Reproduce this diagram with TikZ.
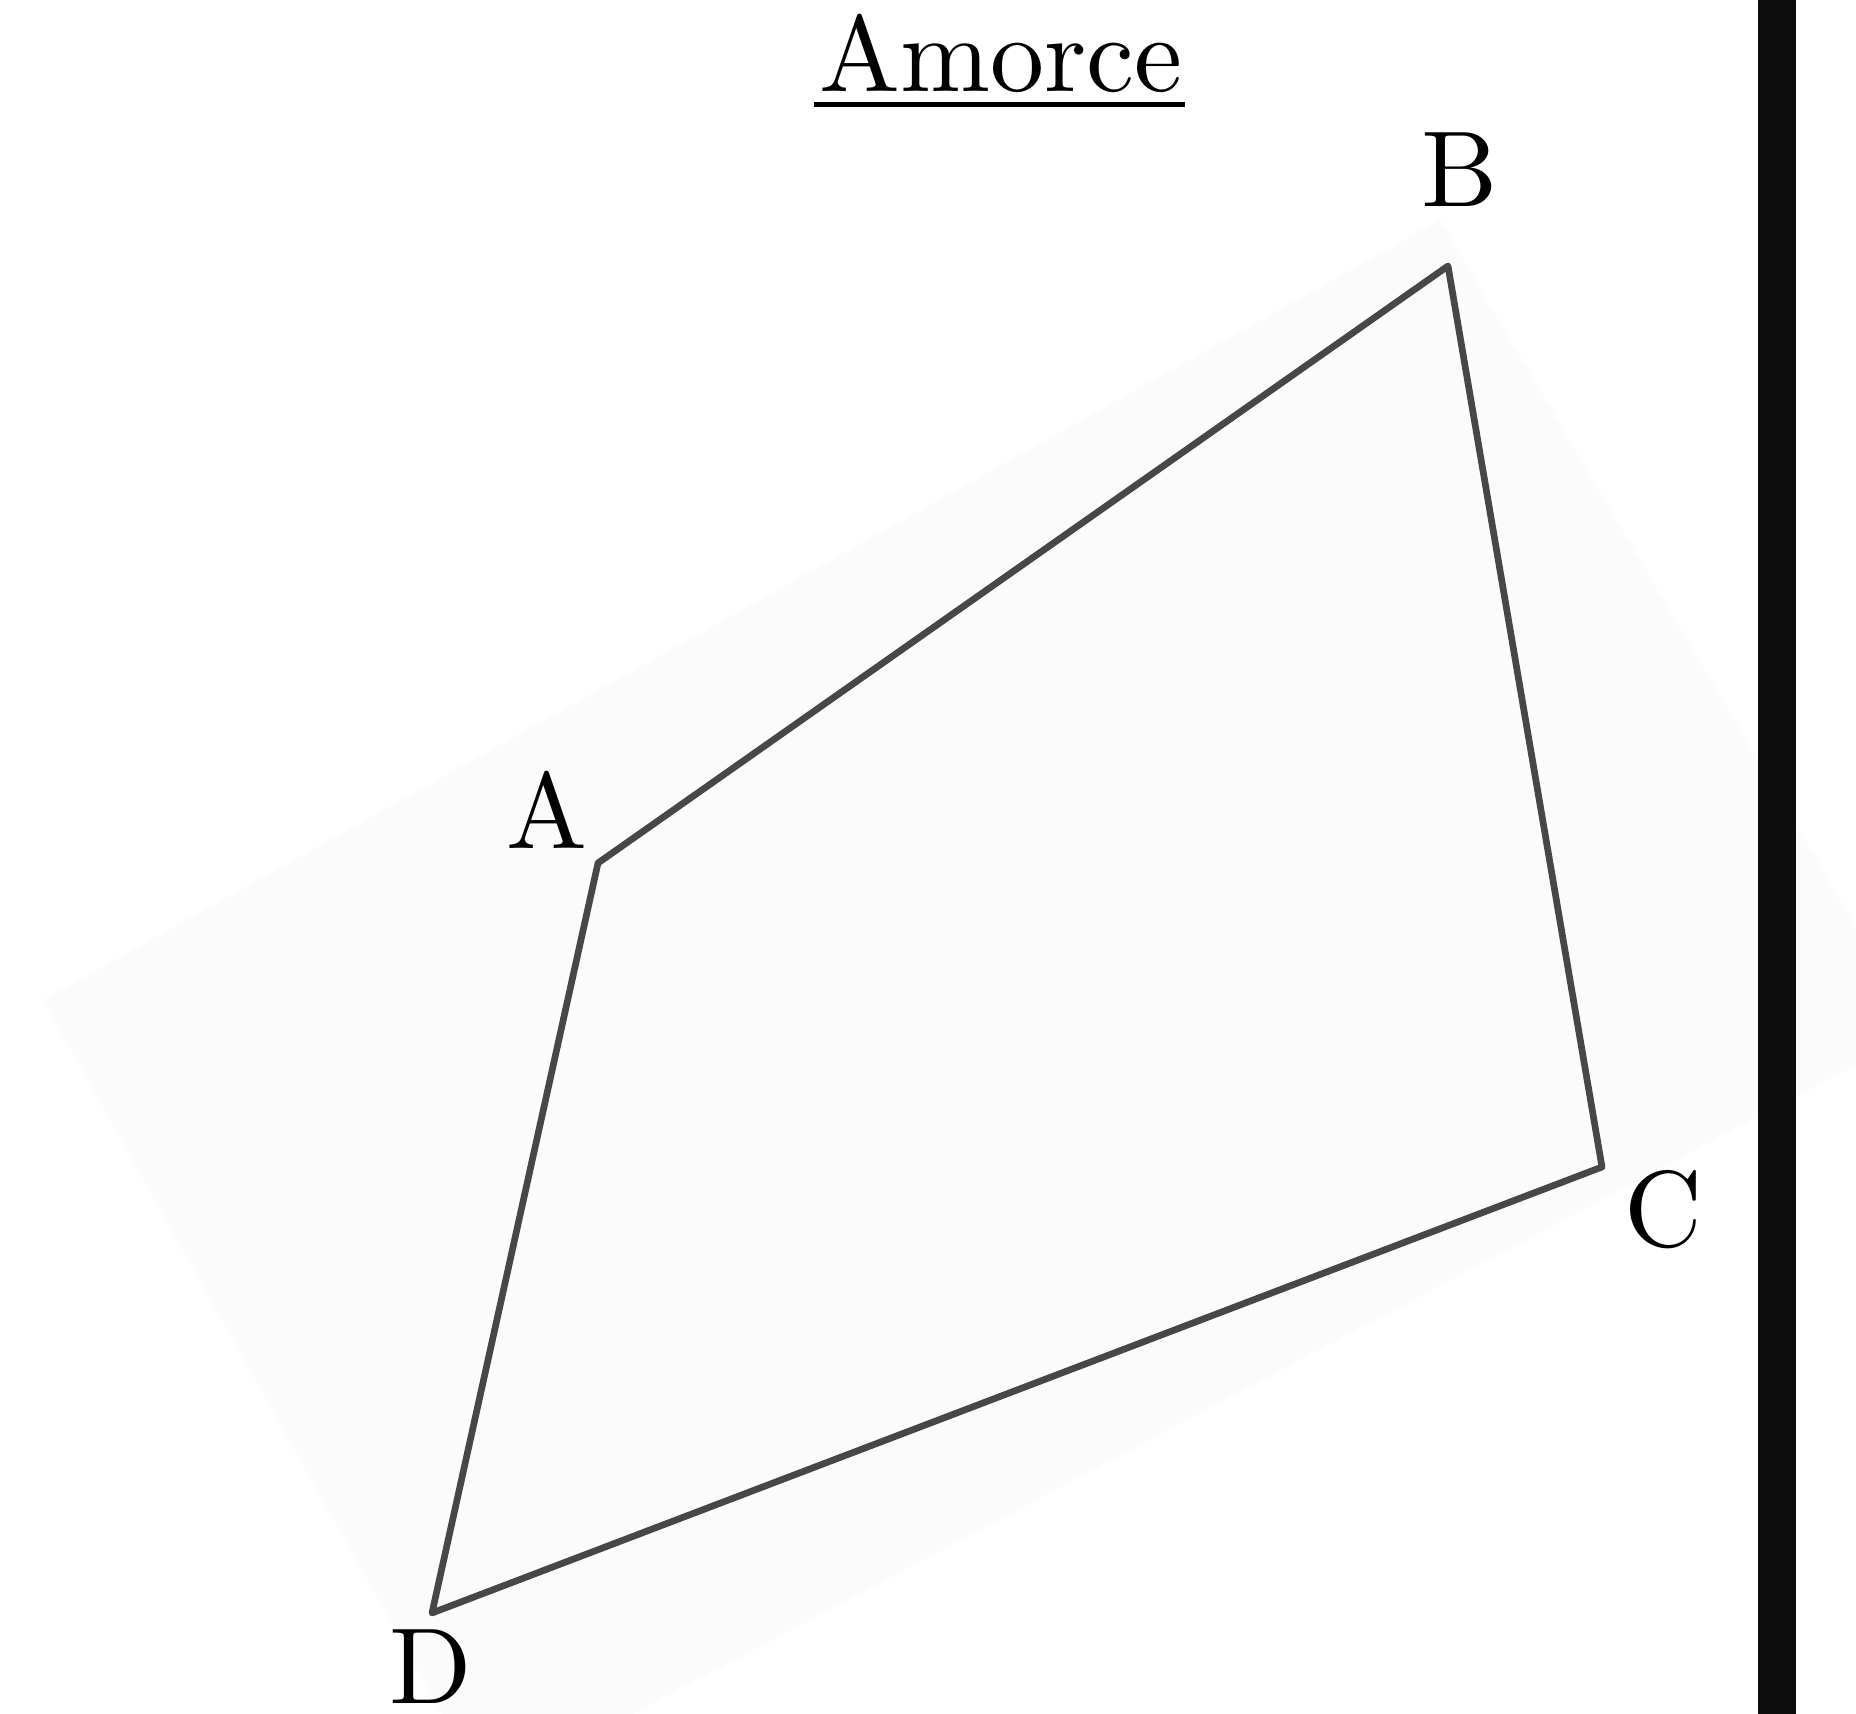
\documentclass[tikz,border=0pt]{standalone}
\usepackage{amsmath}
\usetikzlibrary{positioning,calc}

\begin{document}
\begin{tikzpicture}[x=0.01cm,y=-0.01cm,
  lbl/.style={font=\fontsize{10}{12}\selectfont, scale=3.07, transform shape, inner sep=0pt},
  side/.style={black!72, line width=1.9pt, line join=round, line cap=round}]
\useasboundingbox (0,0) rectangle (1856,1714);
\clip (0,0) rectangle (1856,1714);
% faint sheet behind the figure
\fill[black!1.5] (43,1000) -- (1440,220) -- (1918,1032) -- (486,1792) -- cycle;
% margin bar
\fill[black!95] (1758,0) rectangle (1796,1714);
% title
\node[lbl, anchor=base] (titre) at (1001,91) {Amorce};
\draw[line width=1.6pt] ($(titre.base west)+(-3,13.5)$) -- ($(titre.base east)+(0,13.5)$);
% quadrilateral
\coordinate (A) at (598,863);
\coordinate (B) at (1448,266);
\coordinate (C) at (1602,1167);
\coordinate (D) at (432,1613);
\draw[side] (A) -- (B) -- (C) -- (D) -- cycle;
% vertex names
\node[lbl] (lA) at (547,810) {A};
\node[lbl] (lB) at (1460,170) {B};
\node[lbl] (lC) at (1663,1210) {C};
\node[lbl] (lD) at (431,1667) {D};
\end{tikzpicture}
\end{document}
